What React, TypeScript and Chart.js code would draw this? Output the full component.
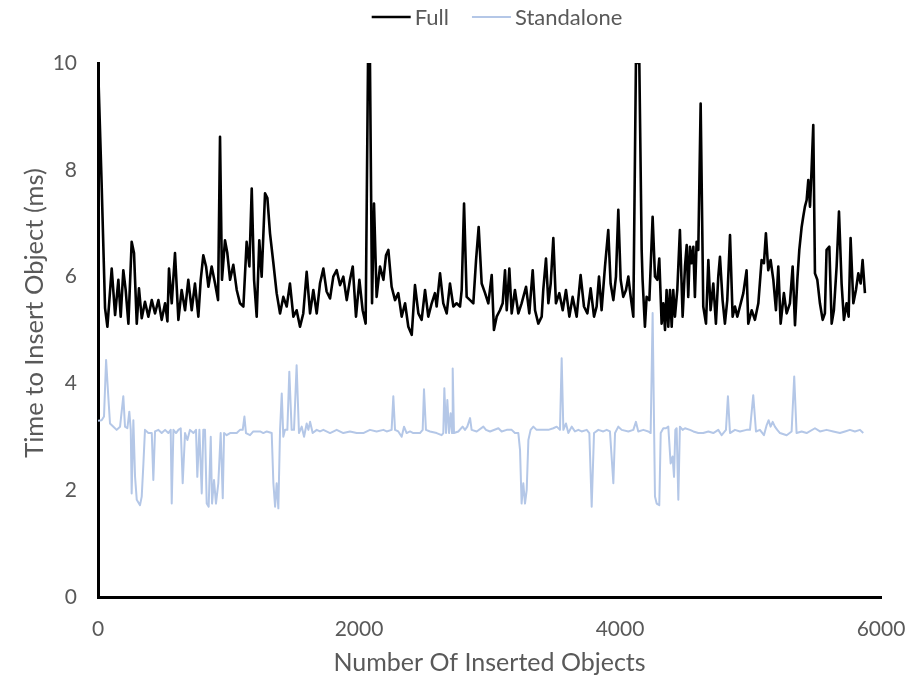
import React, { useEffect, useRef } from "react";
import { Chart, registerables } from "chart.js";

Chart.register(...registerables);

// Number of inserted objects (x) and insert time in ms (y)
const fullX = [
  0, 28, 54, 72, 105, 131, 156, 174, 194, 212, 233, 258, 276, 297, 314, 335, 360, 386, 412, 437,
  463, 488, 514, 532, 544, 565, 590, 616, 641, 667, 692, 718, 743, 769, 787, 807, 828, 846, 871, 897,
  920, 935, 950, 973, 991, 1012, 1037, 1063, 1088, 1114, 1139, 1160, 1178, 1196, 1216, 1236, 1254, 1280, 1298, 1318,
  1344, 1369, 1395, 1420, 1446, 1471, 1497, 1522, 1548, 1573, 1599, 1625, 1650, 1676, 1701, 1727, 1752, 1778, 1803, 1829,
  1855, 1880, 1906, 1931, 1952, 1977, 2003, 2028, 2051, 2069, 2084, 2100, 2115, 2135, 2161,
  2187, 2207, 2225, 2250, 2276, 2301, 2327, 2353, 2378, 2404, 2429, 2455, 2480, 2506, 2531, 2557, 2582, 2595, 2621, 2646,
  2672, 2697, 2723, 2748, 2774, 2787, 2805, 2825, 2851, 2876, 2897, 2917, 2940, 2966, 2991, 3017, 3034, 3055, 3080, 3101,
  3119, 3132, 3152, 3170, 3195, 3221, 3246, 3280, 3305, 3331, 3349, 3374, 3400, 3412, 3433, 3451, 3469, 3489, 3509, 3535,
  3561, 3586, 3612, 3637, 3668, 3698, 3724, 3750, 3775, 3801, 3821, 3839, 3859, 3885, 3910, 3928, 3949, 3969, 3987, 4005,
  4025, 4046, 4064, 4082, 4102, 4122, 4148,
  4166, 4173, 4191, 4204, 4225, 4250, 4268, 4286, 4301, 4319, 4332, 4345, 4357, 4370, 4383, 4396, 4408, 4421, 4439, 4459,
  4480, 4498, 4511, 4523, 4536, 4549, 4562, 4574, 4587, 4600, 4618, 4638, 4659, 4677, 4694, 4715, 4735, 4753, 4766, 4786,
  4804, 4822, 4843, 4863, 4881, 4899, 4919, 4945, 4970, 4983, 5009, 5034, 5060, 5085, 5103, 5118, 5136, 5154, 5175, 5195,
  5213, 5231, 5256, 5277, 5302, 5323, 5341, 5359, 5374, 5392, 5404, 5417, 5430, 5443, 5456, 5468, 5481, 5494, 5512, 5532,
  5553, 5570, 5583, 5604, 5622, 5639, 5660, 5678, 5698, 5716, 5736, 5752, 5767, 5788, 5808, 5826, 5844, 5859, 5877,
];
const fullY = [
  10, 7.72, 5.41, 5.06, 6.15, 5.28, 5.94, 5.25, 6.12, 5.75, 5.12, 6.65, 6.44, 5.12, 5.78, 5.22, 5.53, 5.25, 5.56, 5.31,
  5.56, 5.19, 5.5, 5.16, 6.15, 5.5, 6.44, 5.19, 5.75, 5.37, 5.94, 5.37, 5.87, 5.25, 5.94, 6.4, 6.19, 5.81, 6.19, 5.87,
  5.56, 8.62, 5.94, 6.68, 6.44, 5.94, 6.22, 5.75, 5.5, 5.44, 6.65, 6.19, 7.65, 5.94, 5.25, 6.68, 6.0, 7.56, 7.47, 6.81,
  6.25, 5.69, 5.31, 5.62, 5.44, 5.87, 5.25, 5.37, 5.06, 5.31, 6.09, 5.31, 5.75, 5.31, 5.87, 6.15, 5.72, 5.59, 6.0, 6.12,
  5.84, 6.0, 5.56, 5.94, 6.19, 5.25, 5.94, 5.37, 5.12, 10, 10, 5.5, 7.37, 5.62, 6.19,
  5.94, 6.4, 6.5, 5.81, 5.56, 5.69, 5.25, 5.5, 5.06, 4.91, 5.84, 5.31, 5.19, 5.75, 5.25, 5.5, 5.69, 5.44, 6.06, 5.5,
  5.31, 5.87, 5.44, 5.5, 5.44, 5.75, 7.37, 5.62, 5.56, 5.5, 6.31, 6.93, 5.87, 5.69, 5.5, 6.03, 5.0, 5.25, 5.37, 5.5,
  6.12, 5.37, 6.15, 5.31, 5.75, 5.31, 5.5, 5.81, 5.31, 6.12, 5.37, 5.12, 5.25, 5.75, 6.34, 5.5, 5.87, 6.72, 5.5, 5.69,
  5.37, 5.75, 5.25, 5.62, 5.25, 6.03, 5.44, 5.31, 5.78, 5.25, 5.44, 6.0, 5.37, 6.19, 6.87, 5.87, 5.56, 6.0, 7.25, 5.94,
  5.62, 5.75, 6.0, 5.62, 5.25, 10, 10,
  6.5, 5.94, 5.06, 5.62, 5.56, 7.12, 6.0, 5.94, 6.34, 5.12, 5.5, 5.0, 5.75, 5.06, 5.75, 5.06, 5.75, 5.25, 5.75, 6.87,
  5.25, 6.19, 6.59, 5.62, 6.56, 6.25, 6.56, 5.62, 6.65, 6.5, 9.24, 5.44, 5.12, 6.31, 5.37, 5.87, 5.12, 6.0, 6.37, 5.56,
  5.12, 5.56, 6.78, 5.25, 5.44, 5.25, 5.44, 5.69, 6.12, 5.12, 5.37, 5.19, 5.5, 6.31, 6.25, 6.81, 6.12, 6.31, 5.94, 5.37,
  6.19, 5.12, 5.69, 5.31, 5.5, 6.19, 5.09, 5.94, 6.5, 6.93, 7.12, 7.31, 7.43, 7.81, 7.31, 8.0, 8.84, 6.06, 5.94, 5.5,
  5.19, 5.31, 6.5, 6.56, 5.12, 5.37, 6.19, 7.22, 5.87, 5.19, 5.5, 5.25, 6.72, 5.5, 5.75, 6.06, 5.87, 6.31, 5.69,
];

const standaloneX = [
  0, 28, 46, 62, 79, 92, 118, 143, 169, 194, 207, 225, 240, 251, 258, 271, 284, 297, 322, 335,
  348, 360, 386, 412, 424, 437, 463, 488, 514, 539, 557, 565, 578, 598, 616, 634, 649, 667, 685, 705,
  731, 751, 761, 777, 795, 807, 820, 833, 848, 864, 874, 889, 904, 922, 940, 956, 966, 986, 1012, 1037,
  1063, 1088, 1109, 1122, 1134, 1165, 1190, 1216, 1242, 1267, 1293, 1331, 1344, 1357, 1369, 1382, 1395, 1408, 1420, 1433,
  1451, 1466, 1484, 1502, 1522, 1540, 1561, 1579, 1599, 1612, 1625, 1645, 1676, 1701, 1727, 1778, 1829, 1880, 1931, 1982,
  2033, 2084, 2135, 2187,
  2212, 2250, 2263, 2276, 2301, 2327, 2345, 2365, 2391, 2416, 2467, 2488, 2498, 2513, 2544, 2595, 2633, 2646, 2654, 2667,
  2677, 2690, 2702, 2713, 2718, 2728, 2761, 2794, 2812, 2830, 2851, 2863, 2902, 2953, 2973, 3004, 3068, 3093, 3132, 3170,
  3195, 3221, 3234, 3246, 3259, 3272, 3285, 3298, 3315, 3336, 3361, 3412, 3451, 3489, 3515, 3540, 3553, 3566, 3586, 3604,
  3630, 3655, 3681, 3706, 3745, 3765, 3783, 3801, 3834, 3872, 3898, 3923, 3949, 3962, 3987, 4013, 4064, 4102, 4122, 4140,
  4179, 4217, 4235, 4250, 4268, 4281, 4301, 4312,
  4332, 4352, 4370, 4388, 4403, 4414, 4424, 4434, 4447, 4459, 4480, 4498, 4536, 4562, 4600, 4638, 4677, 4715, 4753, 4779,
  4812, 4827, 4843, 4881, 4919, 4970, 4996, 5021, 5042, 5072, 5103, 5124, 5139, 5154, 5170, 5187, 5205, 5226, 5277, 5315,
  5335, 5353, 5392, 5430, 5494, 5532, 5583, 5634, 5685, 5724, 5762, 5800, 5839, 5864,
];
const standaloneY = [
  3.3, 3.31, 3.38, 4.44, 3.75, 3.25, 3.19, 3.13, 3.19, 3.76, 3.19, 3.16, 3.47, 3.13, 1.94, 3.31, 2.25, 1.82, 1.72, 1.88,
  2.5, 3.13, 3.07, 3.07, 2.19, 3.1, 3.13, 3.07, 3.13, 3.07, 3.13, 1.75, 3.13, 3.07, 3.13, 3.16, 2.13, 3.07, 2.94, 3.13,
  3.07, 3.13, 2.25, 3.13, 1.94, 3.13, 3.13, 1.75, 1.69, 3.0, 1.75, 2.19, 1.75, 2.13, 3.07, 1.85, 3.07, 3.03, 3.07, 3.07,
  3.07, 3.13, 3.13, 3.38, 3.07, 3.03, 3.1, 3.1, 3.1, 3.07, 3.1, 3.07, 2.13, 1.69, 2.13, 1.66, 3.13, 3.81, 3.0, 3.13,
  3.13, 4.22, 3.13, 3.13, 4.34, 3.07, 3.19, 3.0, 3.25, 3.13, 3.28, 3.07, 3.13, 3.1, 3.13, 3.07, 3.13, 3.07, 3.1, 3.07,
  3.07, 3.13, 3.1, 3.13,
  3.1, 3.13, 3.76, 3.13, 3.1, 3.0, 3.19, 3.07, 3.1, 3.07, 3.07, 3.13, 3.89, 3.13, 3.1, 3.07, 3.03, 3.07, 3.91, 3.07,
  3.69, 3.07, 3.44, 3.07, 4.28, 3.07, 3.1, 3.19, 3.13, 3.19, 3.35, 3.13, 3.1, 3.19, 3.13, 3.1, 3.16, 3.1, 3.13, 3.13,
  3.07, 3.07, 2.75, 1.75, 2.13, 1.75, 2.0, 2.94, 3.13, 3.19, 3.13, 3.13, 3.13, 3.16, 3.19, 3.13, 4.47, 3.13, 3.25, 3.07,
  3.19, 3.1, 3.13, 3.1, 3.13, 3.07, 1.69, 3.07, 3.13, 3.1, 3.13, 3.1, 2.13, 3.07, 3.19, 3.13, 3.1, 3.13, 3.28, 3.1,
  3.13, 3.1, 3.07, 5.32, 1.88, 1.75, 1.72, 3.07,
  3.16, 3.16, 3.19, 2.5, 2.63, 2.25, 3.13, 3.16, 1.82, 3.19, 3.13, 3.16, 3.13, 3.1, 3.07, 3.07, 3.1, 3.07, 3.13, 3.03,
  3.13, 3.76, 3.07, 3.13, 3.1, 3.13, 3.13, 3.78, 3.1, 3.13, 3.03, 3.22, 3.31, 3.19, 3.28, 3.19, 3.13, 3.07, 3.03, 3.1,
  4.13, 3.07, 3.1, 3.07, 3.16, 3.1, 3.13, 3.1, 3.07, 3.1, 3.13, 3.1, 3.13, 3.07,
];

const seriesLabels = ["Full", "Standalone"];
const seriesColors = ["#000000", "#B4C7E7"];
const seriesWidths = [2.6, 2];
const xTickValues = [0, 2000, 4000, 6000];
const yTickValues = [0, 2, 4, 6, 8, 10];
const xTitle = "Number Of Inserted Objects";
const yTitle = "Time to Insert Object (ms)";

const FONT = "Lato, 'Open Sans', sans-serif";
const TEXT_COLOR = "#595959";

function toPoints(xs: number[], ys: number[]) {
  const n = Math.min(xs.length, ys.length);
  const pts: { x: number; y: number }[] = [];
  for (let i = 0; i < n; i++) pts.push({ x: xs[i], y: ys[i] });
  return pts;
}

const topLegend = {
  id: "topLegend",
  afterDraw(chart: any) {
    const ctx = chart.ctx as CanvasRenderingContext2D;
    ctx.save();
    ctx.font = `22px ${FONT}`;
    const lineLen = 39;
    const gapText = 4;
    const gapItem = 23;
    const items = chart.data.datasets.map((ds: any) => ({
      label: ds.label,
      color: ds.borderColor,
      lw: ds.borderWidth,
      w: ctx.measureText(ds.label).width,
    }));
    const total =
      items.reduce((s: number, it: any) => s + lineLen + gapText + it.w, 0) +
      gapItem * (items.length - 1);
    let x = 497 - total / 2;
    const y = 17;
    items.forEach((it: any) => {
      ctx.strokeStyle = it.color;
      ctx.lineWidth = it.lw;
      ctx.beginPath();
      ctx.moveTo(x, y);
      ctx.lineTo(x + lineLen, y);
      ctx.stroke();
      x += lineLen + gapText;
      ctx.fillStyle = TEXT_COLOR;
      ctx.textBaseline = "middle";
      ctx.textAlign = "left";
      ctx.fillText(it.label, x, y + 1);
      x += it.w + gapItem;
    });
    ctx.restore();
  },
};

// Vertical axis title, placed like the reference (slightly above the plot centre)
const yAxisTitle = {
  id: "yAxisTitle",
  afterDraw(chart: any) {
    const ctx = chart.ctx as CanvasRenderingContext2D;
    const area = chart.chartArea;
    ctx.save();
    ctx.font = `25.5px ${FONT}`;
    ctx.fillStyle = TEXT_COLOR;
    ctx.textAlign = "center";
    ctx.textBaseline = "middle";
    ctx.translate(35, (area.top + area.bottom) / 2 - 17);
    ctx.rotate(-Math.PI / 2);
    ctx.fillText(yTitle, 0, 0);
    ctx.restore();
  },
};

export default function App() {
  const canvasRef = useRef<HTMLCanvasElement | null>(null);

  useEffect(() => {
    if (!canvasRef.current) return;
    const chart = new Chart(canvasRef.current, {
      type: "line",
      data: {
        datasets: [
          {
            label: seriesLabels[0],
            data: toPoints(fullX, fullY),
            borderColor: seriesColors[0],
            backgroundColor: seriesColors[0],
            borderWidth: seriesWidths[0],
            pointRadius: 0,
            tension: 0,
            borderJoinStyle: "round",
          },
          {
            label: seriesLabels[1],
            data: toPoints(standaloneX, standaloneY),
            borderColor: seriesColors[1],
            backgroundColor: seriesColors[1],
            borderWidth: seriesWidths[1],
            pointRadius: 0,
            tension: 0,
            borderJoinStyle: "round",
          },
        ],
      },
      options: {
        animation: false,
        responsive: true,
        maintainAspectRatio: false,
        layout: { padding: { left: 0, top: 63, right: 32, bottom: 0 } },
        plugins: {
          legend: { display: false },
          tooltip: { enabled: false },
        },
        scales: {
          x: {
            type: "linear",
            min: 0,
            max: 6000,
            afterBuildTicks: (scale: any) => {
              scale.ticks = xTickValues.map((v) => ({ value: v }));
            },
            afterFit: (scale: any) => {
              scale.height = 84;
              scale.paddingLeft = 0;
              scale.paddingRight = 0;
            },
            grid: { display: false, drawTicks: false },
            border: { display: true, color: "#000000", width: 3 },
            ticks: {
              color: TEXT_COLOR,
              font: { family: FONT, size: 21 },
              padding: 20,
              maxRotation: 0,
              callback: (v: any) => String(v),
            },
            title: {
              display: true,
              text: xTitle,
              color: TEXT_COLOR,
              font: { family: FONT, size: 25 },
              padding: { top: 0, bottom: 3 },
            },
          },
          y: {
            type: "linear",
            min: 0,
            max: 10,
            afterBuildTicks: (scale: any) => {
              scale.ticks = yTickValues.map((v) => ({ value: v }));
            },
            afterFit: (scale: any) => {
              scale.width = 98;
              scale.paddingTop = 0;
              scale.paddingBottom = 0;
            },
            grid: { display: false, drawTicks: false },
            border: { display: true, color: "#000000", width: 3 },
            ticks: {
              color: TEXT_COLOR,
              font: { family: FONT, size: 21 },
              padding: 21,
              callback: (v: any) => String(v),
            },
            title: { display: false },
          },
        },
      },
      plugins: [topLegend, yAxisTitle],
    });
    return () => chart.destroy();
  }, []);

  return (
    <div style={{ position: "absolute", left: 0, top: 0, width: 913, height: 681, background: "#ffffff" }}>
      <canvas ref={canvasRef} />
    </div>
  );
}
